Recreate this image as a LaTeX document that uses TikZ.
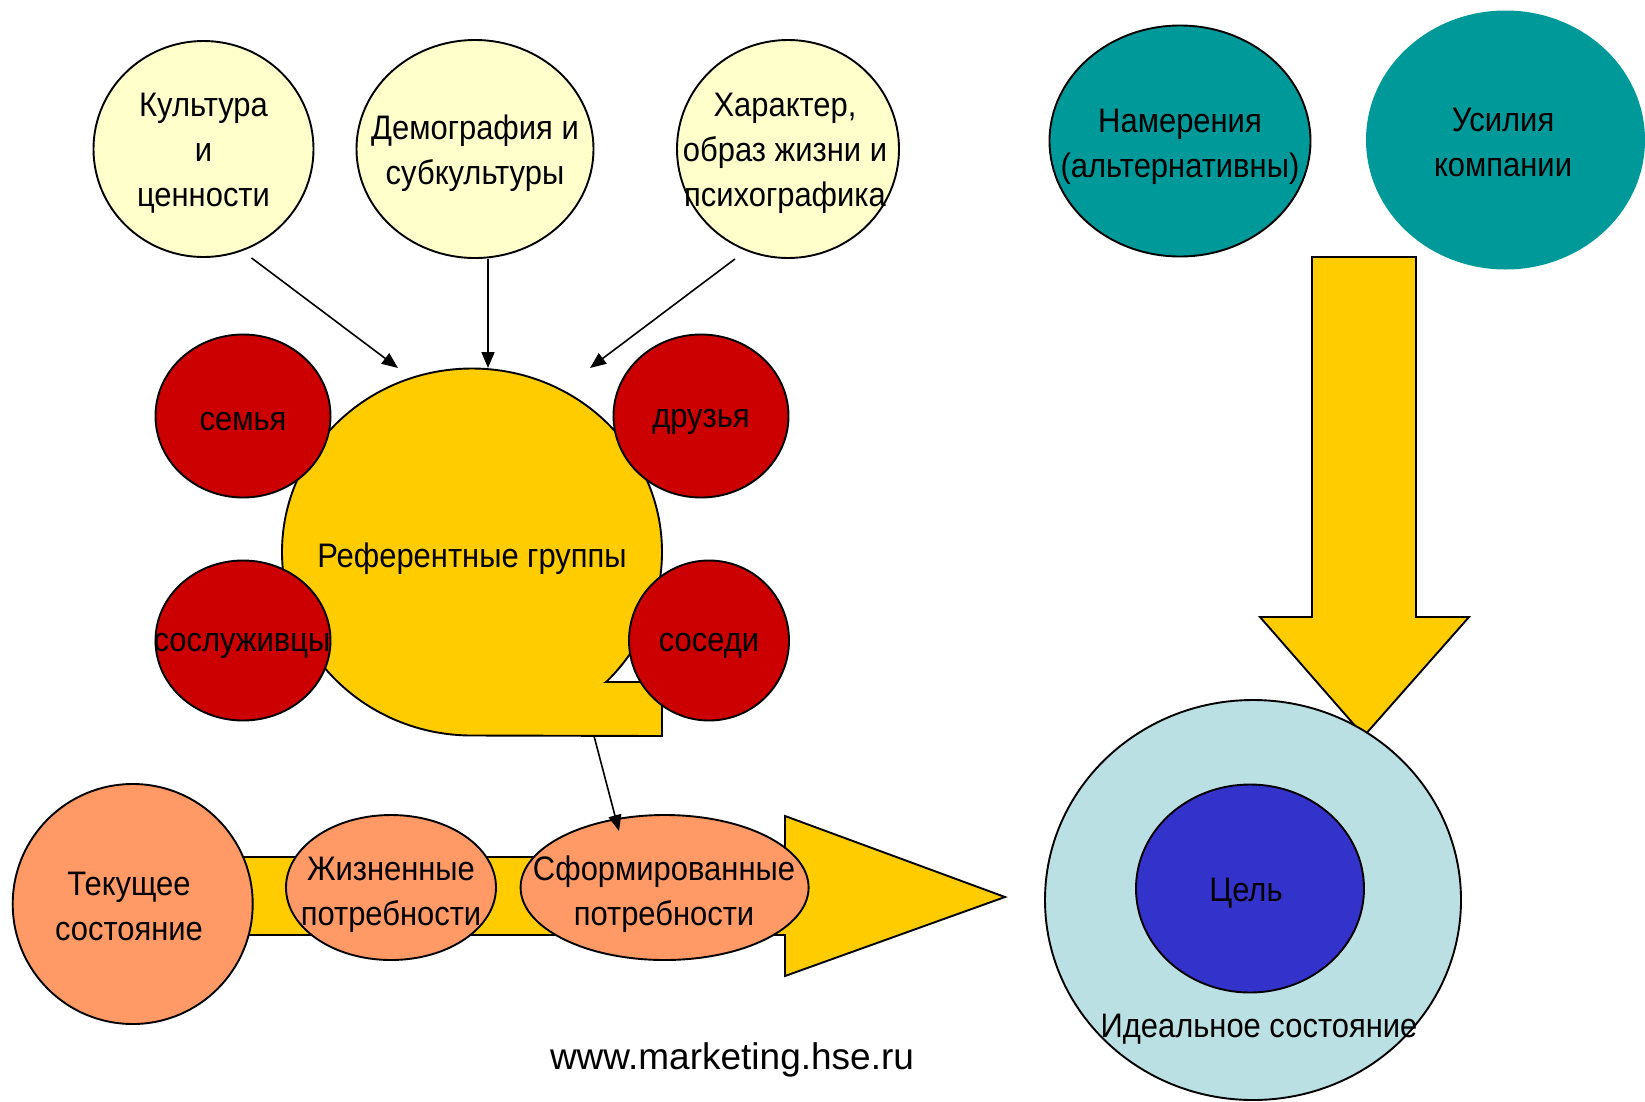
\documentclass[tikz,border=0pt]{standalone}
\usepackage{fontspec}
\setmainfont{Liberation Sans}
\newfontfamily\narrowfont[FakeStretch=0.91]{Liberation Sans}
\usetikzlibrary{shapes.geometric,arrows.meta}
\definecolor{lyel}{HTML}{FFFFCC}
\definecolor{gold}{HTML}{FFCC00}
\definecolor{dred}{HTML}{CC0000}
\definecolor{teal2}{HTML}{009999}
\definecolor{salm}{HTML}{FF9966}
\definecolor{lblue}{HTML}{BBE0E3}
\definecolor{blu}{HTML}{3333CC}
\begin{document}
\begin{tikzpicture}[x=1bp,y=-1bp,
  ell/.style={ellipse, draw=black, line width=1.9bp, inner sep=0pt},
  txt/.style={font=\narrowfont\fontsize{34bp}{45bp}\selectfont, align=center, inner sep=0pt},
  conn/.style={line width=1.6bp, -{Triangle[length=16bp,width=13bp]}},
  shapeline/.style={draw=black, line width=1.9bp, line join=miter}]
\useasboundingbox (0,0) rectangle (1645,1101);

% top influences
\node[ell, fill=lyel, minimum width=220bp, minimum height=216bp] (cult) at (203.5,149) {};
\node[txt] (cult-t) at (203.5,153.5) {Культура\\и\\ценности};
\node[ell, fill=lyel, minimum width=237bp, minimum height=218bp] (demo) at (475,149) {};
\node[txt] (demo-t) at (475,153.5) {Демография и\\субкультуры};
\node[ell, fill=lyel, minimum width=222bp, minimum height=218bp] (char) at (788,149) {};
\node[txt] (char-t) at (785,153.5) {Характер,\\образ жизни и\\психографика};

% teal
\node[ell, fill=teal2, minimum width=261bp, minimum height=231bp] (inten) at (1180,141) {};
\node[txt] (inten-t) at (1180,147) {Намерения\\(альтернативны)};
\node[ellipse, fill=teal2, inner sep=0pt, minimum width=279bp, minimum height=259bp] (effort) at (1505.5,140) {};
\node[txt] (effort-t) at (1503,142.5) {Усилия\\компании};

% down arrow
\path[shapeline, fill=gold] (1312,257) -- (1416,257) -- (1416,617) -- (1469,617) -- (1364,736) -- (1260,617) -- (1312,617) -- cycle;

% ideal state
\node[ell, fill=lblue, minimum width=416bp, minimum height=400bp] (ideal) at (1253,900) {};
\node[ell, fill=blu, minimum width=228bp, minimum height=208bp] (goal) at (1250,888.5) {};
\node[txt] (goal-t) at (1246,893) {Цель};
\node[txt] (ideal-t) at (1259,1029) {Идеальное состояние};

% reference groups shape
\path[shapeline, fill=gold] (606,682) -- (662,682) -- (662,736) -- (472,735.5)
  arc[start angle=90, end angle=405, x radius=190, y radius=183.5] -- cycle;
\node[txt] (ref) at (472,558.5) {Референтные группы};

% red circles
\node[ell, fill=dred, minimum width=175bp, minimum height=163bp] (fam) at (243,416) {};
\node[txt] (fam-t) at (243,421.5) {семья};
\node[ell, fill=dred, minimum width=175bp, minimum height=163bp] (fr) at (701,416) {};
\node[txt] (fr-t) at (701,421.5) {друзья};
\node[ell, fill=dred, minimum width=175bp, minimum height=160bp] (col) at (243,640.5) {};
\node[txt] (col-t) at (242,646) {сослуживцы};
\node[ell, fill=dred, minimum width=160bp, minimum height=160bp] (nei) at (709,640.5) {};
\node[txt] (nei-t) at (709,646) {соседи};

% arrows into reference groups
\coordinate (ra) at (398,368);
\coordinate (rb) at (488,368);
\coordinate (rc) at (590,368);
\draw[conn] ([xshift=48bp]cult.south) -- (ra);
\draw[conn] ([xshift=13bp]demo.south) -- (rb);
\draw[conn] ([xshift=-53bp]char.south) -- (rc);

% horizontal arrow
\path[shapeline, fill=gold] (200,857) -- (785,857) -- (785,816) -- (1005,897) -- (785,976) -- (785,935) -- (200,935) -- cycle;

% bottom ellipses
\node[ell, fill=salm, minimum width=240bp, minimum height=240bp] (cur) at (132.7,904) {};
\node[txt] (cur-t) at (129,906.5) {Текущее\\состояние};
\node[ell, fill=salm, minimum width=210bp, minimum height=145bp] (life) at (391,887.5) {};
\node[txt] (life-t) at (391,894.5) {Жизненные\\потребности};
\node[ell, fill=salm, minimum width=288bp, minimum height=145bp] (form) at (664.6,887.5) {};
\node[txt] (form-t) at (664,894.5) {Сформированные\\потребности};

% arrow from reference groups to formed needs
\coordinate (refB) at (594,736);
\coordinate (formIn) at (619,831);
\draw[conn] (refB) -- (formIn);

% url
\node[font=\fontsize{37bp}{44bp}\selectfont, inner sep=0pt] (url) at (732,1060) {www.marketing.hse.ru};
\end{tikzpicture}
\end{document}
